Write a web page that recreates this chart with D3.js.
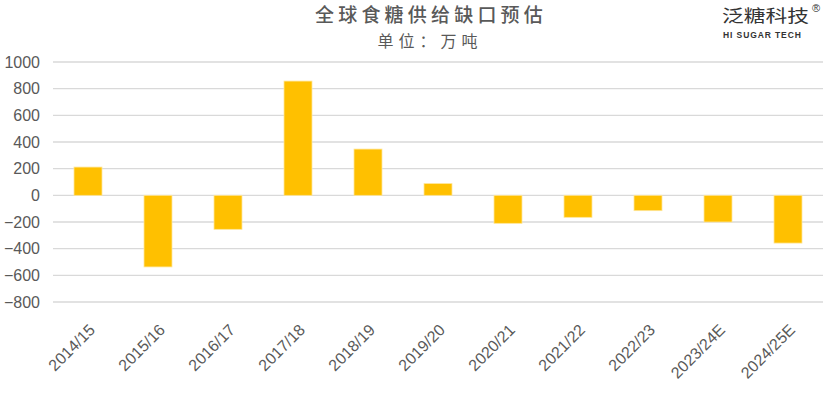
<!DOCTYPE html>
<meta charset="utf-8">
<script src="https://d3js.org/d3.v7.min.js"></script>
<style>
  body { margin: 0; background: #fff; }
</style>
<div id="chart"></div>
<script>
// data (万吨)
const seasons = ["2014/15", "2015/16", "2016/17", "2017/18", "2018/19", "2019/20",
                 "2020/21", "2021/22", "2022/23", "2023/24E", "2024/25E"];
const gap = [212, -537, -255, 857, 347, 88, -210, -165, -115, -200, -358];
const yTicks = [1000, 800, 600, 400, 200, 0, -200, -400, -600, -800];

const W = 831, H = 394;
const svg = d3.select("#chart").append("svg")
  .attr("width", W).attr("height", H);

const x = d3.scaleBand().domain(seasons).range([53, 823]).paddingInner(0.6).paddingOuter(0.3);
const y = d3.scaleLinear().domain([-800, 1000]).range([302, 62]);

// grid
svg.append("g").selectAll("line").data(yTicks).join("line")
  .attr("x1", 53).attr("x2", 823)
  .attr("y1", d => y(d)).attr("y2", d => y(d))
  .attr("stroke", "#d9d9d9").attr("stroke-width", 1.3);

// y labels
svg.append("g").selectAll("text").data(yTicks).join("text")
  .attr("x", 40).attr("y", d => y(d)).attr("dy", "0.36em")
  .attr("text-anchor", "end")
  .attr("font-family", "Liberation Sans, Arial, sans-serif")
  .attr("font-size", 16).attr("fill", "#595959")
  .text(d => d < 0 ? "\u2212" + Math.abs(d) : d);

// bars
svg.append("g").selectAll("rect").data(gap).join("rect")
  .attr("x", (d, i) => x(seasons[i]))
  .attr("width", x.bandwidth())
  .attr("y", d => y(Math.max(0, d)))
  .attr("height", d => Math.abs(y(d) - y(0)))
  .attr("fill", "#ffc000")
  .attr("stroke", "#ffe699").attr("stroke-width", 0.8);

// x labels
svg.append("g").selectAll("text").data(seasons).join("text")
  .attr("text-anchor", "end")
  .attr("transform", d => "translate(" + (x(d) + x.bandwidth() / 2 + 8) + ",331) rotate(-45)")
  .attr("font-family", "Liberation Sans, Arial, sans-serif")
  .attr("font-size", 16).attr("fill", "#595959")
  .text(d => d);

// title
svg.append("text").attr("x", 431).attr("y", 22).attr("text-anchor", "middle")
  .attr("font-family", "Noto Sans CJK SC, sans-serif").attr("font-size", 19)
  .attr("font-weight", 500).attr("letter-spacing", 4.2).attr("fill", "#595959")
  .text("全球食糖供给缺口预估");
svg.append("text").attr("x", 430).attr("y", 47).attr("text-anchor", "middle")
  .attr("font-family", "Noto Sans CJK SC, sans-serif").attr("font-size", 16)
  .attr("letter-spacing", 5).attr("fill", "#595959")
  .text("单位：万吨");

// logo
svg.append("text").attr("transform", "translate(722,22) scale(1.28,1)")
  .attr("font-family", "Noto Sans CJK SC, sans-serif").attr("font-size", 17)
  .attr("fill", "#333").text("泛糖科技");
svg.append("text").attr("x", 812).attr("y", 12)
  .attr("font-family", "Liberation Sans, sans-serif").attr("font-size", 11)
  .attr("fill", "#333").text("®");
svg.append("text").attr("x", 723).attr("y", 38)
  .attr("font-family", "Liberation Sans, Arial, sans-serif").attr("font-size", 8.5)
  .attr("font-weight", "bold").attr("letter-spacing", 0.9).attr("fill", "#333")
  .text("HI SUGAR TECH");
</script>
